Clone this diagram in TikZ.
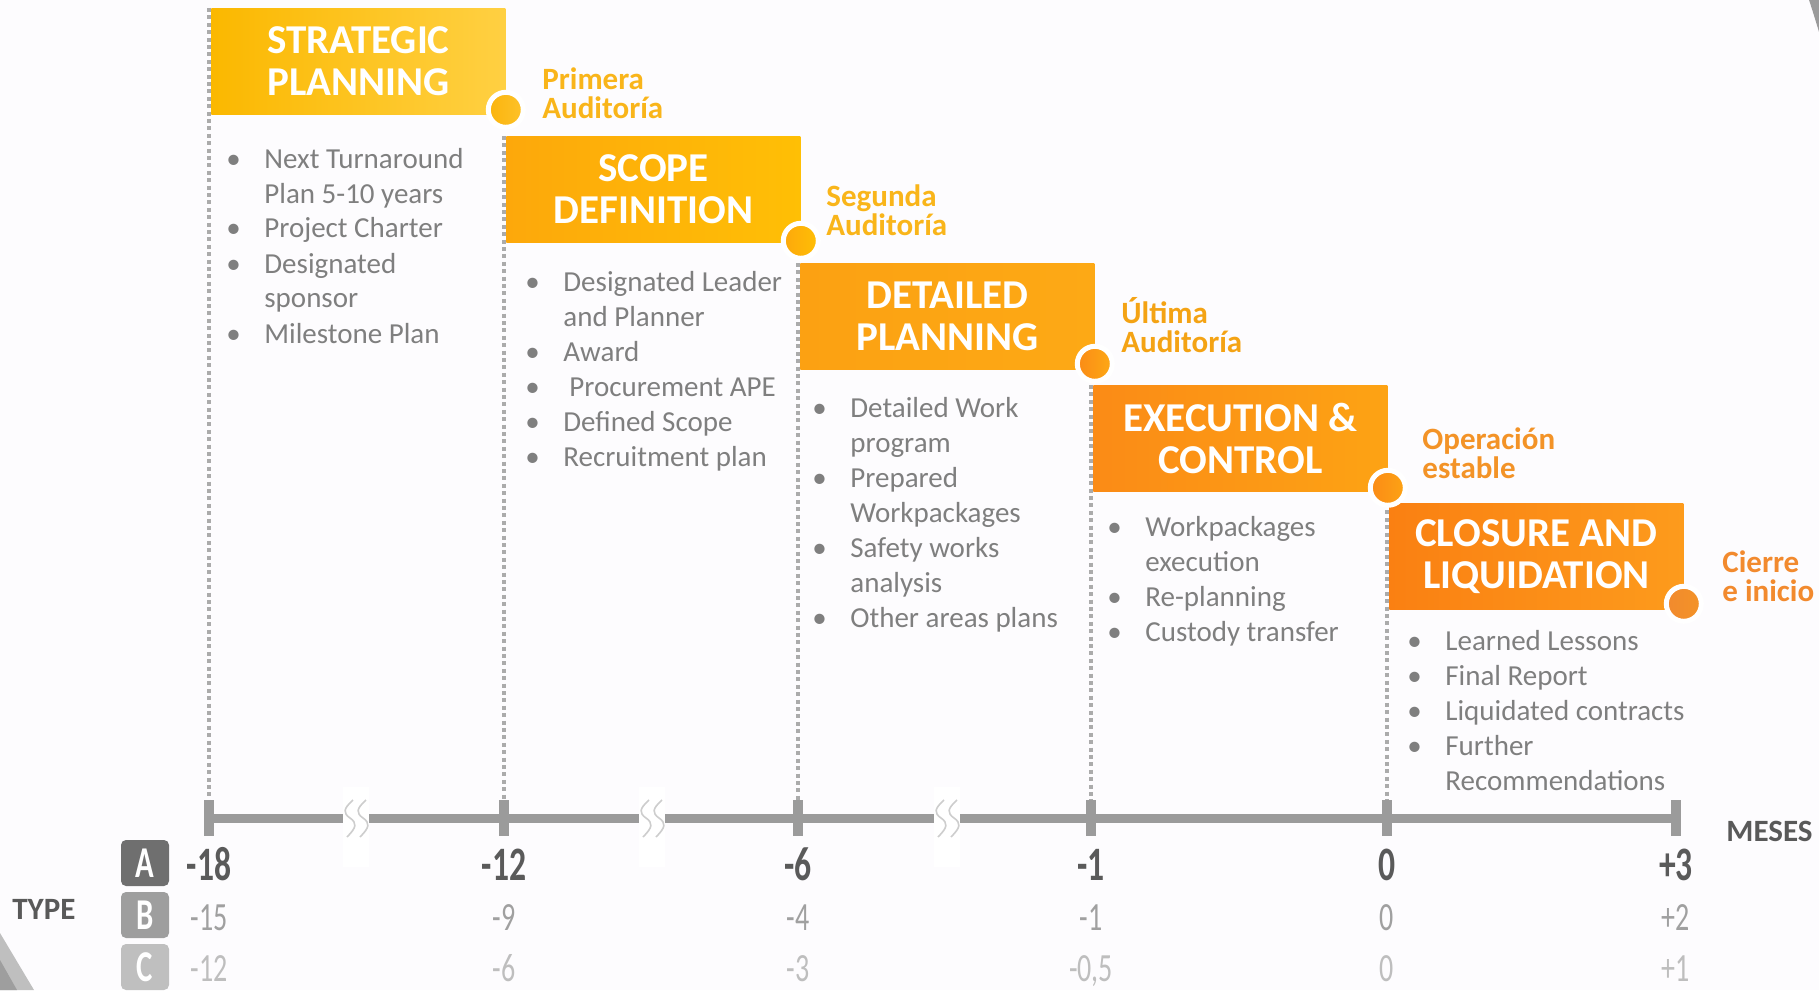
\documentclass[tikz,border=0pt]{standalone}
\usepackage{fontspec}
\setmainfont{Carlito}
\newfontfamily\numfont[FakeStretch=0.7]{Carlito}
\usetikzlibrary{calc}
\definecolor{bg}{HTML}{FDFCFE}
\definecolor{txt}{HTML}{7F7F7F}
\definecolor{dark}{HTML}{595959}
\definecolor{dotgray}{HTML}{ABABAB}
\definecolor{axisgray}{HTML}{9B9B9B}
\definecolor{brkgray}{HTML}{CDCDCD}
\definecolor{rowa}{HTML}{5A5A5A}
\definecolor{rowb}{HTML}{A0A0A0}
\definecolor{rowc}{HTML}{BEBEBE}
\definecolor{ta}{HTML}{6F6F6F}
\definecolor{tb}{HTML}{9E9E9E}
\definecolor{tc}{HTML}{BFBFBF}
% phase boxes, left and right shade
\definecolor{spL}{HTML}{FBB800}\definecolor{spR}{HTML}{FFD042}
\definecolor{sdL}{HTML}{FDA80B}\definecolor{sdR}{HTML}{FFBF05}
\definecolor{dpL}{HTML}{FCA112}\definecolor{dpR}{HTML}{FDA915}
\definecolor{ecL}{HTML}{FB8B16}\definecolor{ecR}{HTML}{FDA314}
\definecolor{clL}{HTML}{FA8012}\definecolor{clR}{HTML}{FD9B1C}
% milestone dots
\definecolor{m1L}{HTML}{FBB40C}\definecolor{m1R}{HTML}{FDC22A}
% audit labels
\definecolor{au1}{HTML}{F9B51A}
\definecolor{au3}{HTML}{F4A314}
\definecolor{au4}{HTML}{F39327}
\definecolor{au5}{HTML}{F28A2E}
\tikzset{
  phase/.style={anchor=north west, minimum width=147pt, minimum height=53pt, inner sep=0pt,
    text=white, align=center, font=\fontsize{20.5}{21}\selectfont\bfseries},
  ms/.style={circle, draw=white, line width=2.5pt, minimum size=17.5pt, inner sep=0pt},
  aud/.style={anchor=base west, inner sep=0pt, align=left,
    font={\lineskiplimit=-\maxdimen\fontsize{15.5}{14.5}\selectfont\bfseries}},
  lst/.style={anchor=base west, inner sep=0pt, text=txt, font=\fontsize{14.5}{17.5}\selectfont},
  guide/.style={draw=dotgray, line width=2pt, dash pattern=on 2pt off 1.7pt},
  axisline/.style={draw=axisgray, line width=4.5pt},
  tk/.style={draw=axisgray, line width=5pt},
  brk/.style={draw=brkgray, line width=0.8pt},
  numa/.style={anchor=base, inner sep=0pt, text height=16pt, text depth=0pt, text=rowa,
    font=\numfont\fontsize{24}{24}\selectfont\bfseries},
  numb/.style={anchor=base, inner sep=0pt, text height=13pt, text depth=1pt, text=rowb,
    font=\numfont\fontsize{20}{20}\selectfont},
  numc/.style={numb, text=rowc},
  badge/.style={rounded corners=2.5pt, minimum width=24pt, minimum height=23pt, inner sep=0pt,
    text=white, font=\numfont\fontsize{22}{22}\selectfont\bfseries},
  lead/.style={anchor=base west, inner sep=0pt, text=dark, font=\fontsize{15.5}{15.5}\selectfont\bfseries},
}

\begin{document}
\begin{tikzpicture}[x=0.5pt, y=-0.5pt]
  \useasboundingbox (0,0) rectangle (1819,990);
  \fill[bg] (0,0) rectangle (1819,990);

  % corner pieces of the slide background
  \fill[axisgray] (1809,0) .. controls (1813,12) and (1816,22) .. (1819,32) -- (1819,0) -- cycle;
  \fill[tc] (0,933) -- (34,990) -- (0,990) -- cycle;
  \fill[tb] (0,960) -- (17,990) -- (0,990) -- cycle;

  % top left corners of the phases
  \coordinate (c1) at (211,8);
  \coordinate (c2) at (506,136);
  \coordinate (c3) at (800,263);
  \coordinate (c4) at (1093,385);
  \coordinate (c5) at (1389,503);
  \coordinate (ax) at (0,818);

  % time axis points under each phase
  \foreach \n in {1,...,5}
    \coordinate (t\n) at ([xshift=-1pt]c\n |- ax);
  \coordinate (t6) at (1676,818);

  % dotted drop lines
  \foreach \n in {1,...,5}
    \draw[guide] ([xshift=-1pt]c\n) -- (t\n);

  % phases
  \node[phase, left color=spL, right color=spR] (sp) at (c1) {STRATEGIC\\PLANNING};
  \node[phase, left color=sdL, right color=sdR] (sd) at (c2) {SCOPE\\DEFINITION};
  \node[phase, left color=dpL, right color=dpR] (dp) at (c3) {DETAILED\\PLANNING};
  \node[phase, left color=ecL, right color=ecR] (ec) at (c4) {EXECUTION \&\\CONTROL};
  \node[phase, left color=clL, right color=clR] (cl) at (c5) {CLOSURE AND\\LIQUIDATION};

  % milestones
  \node[ms, left color=m1L, right color=m1R] (m1) at ([yshift=2.5pt]sp.south east) {};
  \node[ms, left color=sdL, right color=sdR] (m2) at ([yshift=1pt]sd.south east) {};
  \node[ms, left color=ecL, right color=dpR] (m3) at ([yshift=3pt]dp.south east) {};
  \node[ms, left color=ecL, right color=ecR] (m4) at ([yshift=2pt]ec.south east) {};
  \node[ms, left color=au5, right color=au4] (m5) at ([yshift=3pt]cl.south east) {};

  % audit labels (placed by their second line)
  \node[aud, text=au1] (a1) at (542,119) {Primera\\Auditoría};
  \node[aud, text=au1] (a2) at (826,235) {Segunda\\Auditoría};
  \node[aud, text=au3] (a3) at (1121,352) {Última\\Auditoría};
  \node[aud, text=au4] (a4) at (1422,478) {Operación\\estable};
  \node[aud, text=au5] (a5) at (1722,601) {Cierre\\e inicio};

  % deliverables
  \node[lst] (l1) at (226,168) {\begin{tabular}[t]{@{}p{19pt}@{}l@{}}
    \textbullet & Next Turnaround\\
                & Plan 5-10 years\\
    \textbullet & Project Charter\\
    \textbullet & Designated\\
                & sponsor\\
    \textbullet & Milestone Plan
  \end{tabular}};
  \node[lst] (l2) at (525,291) {\begin{tabular}[t]{@{}p{19pt}@{}l@{}}
    \textbullet & Designated Leader\\
                & and Planner\\
    \textbullet & Award\\
    \textbullet & \hspace{3pt}Procurement APE\\
    \textbullet & Defined Scope\\
    \textbullet & Recruitment plan
  \end{tabular}};
  \node[lst] (l3) at (812,417) {\begin{tabular}[t]{@{}p{19pt}@{}l@{}}
    \textbullet & Detailed Work\\
                & program\\
    \textbullet & Prepared\\
                & Workpackages\\
    \textbullet & Safety works\\
                & analysis\\
    \textbullet & Other areas plans
  \end{tabular}};
  \node[lst] (l4) at (1107,536) {\begin{tabular}[t]{@{}p{19pt}@{}l@{}}
    \textbullet & Workpackages\\
                & execution\\
    \textbullet & Re-planning\\
    \textbullet & Custody transfer
  \end{tabular}};
  \node[lst] (l5) at (1407,650) {\begin{tabular}[t]{@{}p{19pt}@{}l@{}}
    \textbullet & Learned Lessons\\
    \textbullet & Final Report\\
    \textbullet & Liquidated contracts\\
    \textbullet & Further\\
                & Recommendations
  \end{tabular}};

  % axis
  \draw[axisline] (t1) -- (t6);
  \foreach \n in {1,...,6}
    \draw[tk] (t\n) ++(0,-18) -- ++(0,36);

  % axis breaks
  \foreach \x in {356,652,947} {
    \fill[white] (\x-13,787) rectangle (\x+13,867);
    \foreach \s in {-6,7}
      \draw[brk] (\x+\s+3,800) .. controls (\x+\s-7,809) and (\x+\s-7,813) .. (\x+\s,818)
        .. controls (\x+\s+7,823) and (\x+\s+7,827) .. (\x+\s-3,837);
  }

  % months per type
  \coordinate (ra) at (0,880);
  \coordinate (rb) at (0,930);
  \coordinate (rc) at (0,981);
  \foreach \n/\a/\b/\c in {1/-18/-15/-12, 2/-12/-9/-6, 3/-6/-4/-3, 4/-1/-1/{-0,5}, 5/0/0/0, 6/+3/+2/+1} {
    \node[numa] (na\n) at (t\n |- ra) {\a};
    \node[numb] (nb\n) at (t\n |- rb) {\b};
    \node[numc] (nc\n) at (t\n |- rc) {\c};
  }

  \node[badge, fill=ta] (ba) at (145,863) {A};
  \node[badge, fill=tb] (bb) at (145,915) {B};
  \node[badge, fill=tc] (bc) at (145,967) {C};

  \node[lead] (type) at (12,919) {TYPE};
  \node[lead] (meses) at (1726,841) {MESES};
\end{tikzpicture}
\end{document}
